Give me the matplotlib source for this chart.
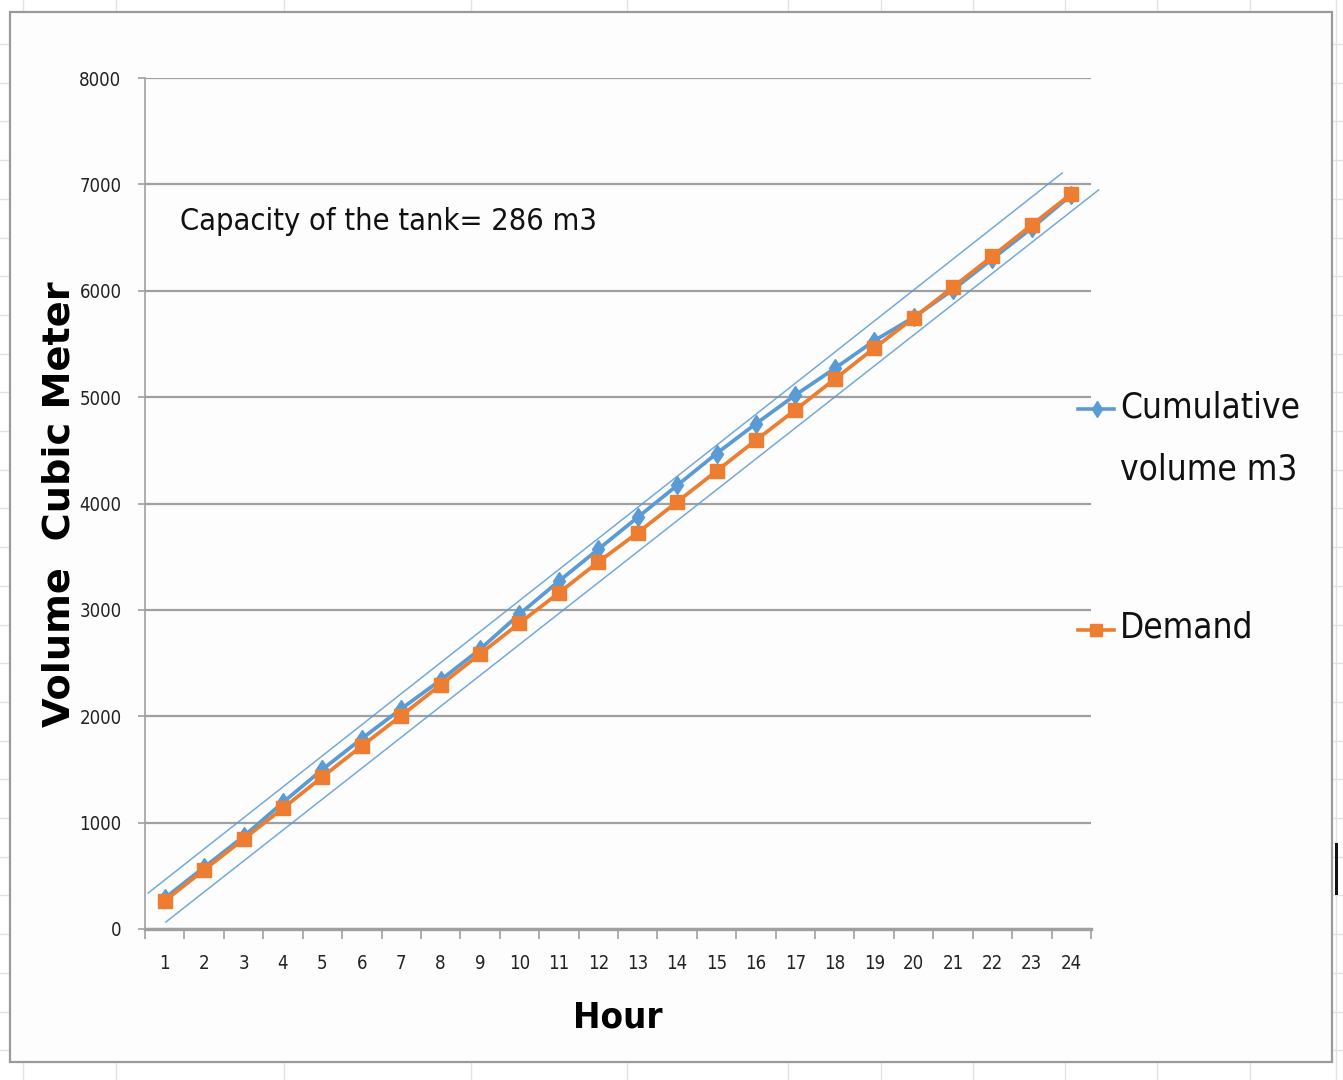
import matplotlib
matplotlib.use("Agg")
import matplotlib.pyplot as plt
from matplotlib import font_manager as fm
from matplotlib.font_manager import FontProperties
from matplotlib.lines import Line2D
from matplotlib.patches import Rectangle

# hourly values (m3)
hours = list(range(1, 25))
cumulative_volume = [290, 580, 870, 1190, 1500, 1790, 2070, 2340, 2630, 2960, 3270, 3570,
                     3870, 4170, 4470, 4750, 5020, 5270, 5530, 5750, 6010, 6300, 6590, 6900]
demand = [265, 555, 845, 1135, 1430, 1720, 2005, 2295, 2585, 2875, 3160, 3450,
          3725, 4015, 4305, 4595, 4880, 5170, 5460, 5745, 6035, 6325, 6620, 6910]

# envelope lines drawn by hand around the two curves (hour, m3)
upper_env_x = [0.58, 23.77]
upper_env_y = [338, 7107]
lower_env_x = [1.03, 24.69]
lower_env_y = [66, 6947]

y_ticks = [0, 1000, 2000, 3000, 4000, 5000, 6000, 7000, 8000]

BLUE = "#5B9BD5"
ORANGE = "#ED7D31"
GRID = "#A0A0A0"


def narrow_font(bold=False):
    """Return the narrowest sans face available, as FontProperties."""
    want = "bold" if bold else "normal"
    for name in ["Liberation Sans Narrow", "DejaVu Sans"]:
        for f in fm.fontManager.ttflist:
            if f.name != name:
                continue
            if name == "DejaVu Sans" and "ondensed" not in str(f.stretch) and "Condensed" not in f.fname:
                continue
            is_bold = (f.weight in ("bold", 700) or "Bold" in f.fname)
            if is_bold == bold and "Oblique" not in f.fname and "Italic" not in f.fname:
                return FontProperties(fname=f.fname)
    return FontProperties(family="Liberation Sans", weight=want)


NARROW = narrow_font()
NARROW_BOLD = narrow_font(bold=True)

W, H = 1343, 1080
fig = plt.figure(figsize=(W / 100, H / 100), dpi=100)
fig.patch.set_facecolor("white")
renderer = fig.canvas.get_renderer()


def fx(px):
    return px / W


def fy(py):
    return 1 - py / H


def fit(text, width_px, vertical=False, boost=1.0):
    """Scale a text's font size so its drawn length is about width_px."""
    bb = text.get_window_extent(renderer)
    length = bb.height if vertical else bb.width
    text.set_fontsize(text.get_fontsize() * width_px / length * boost)
    return text


# worksheet cells behind the chart
for cx in [23, 116, 284, 471, 627, 788, 881, 973, 1065, 1157, 1250, 1336]:
    fig.add_artist(Line2D([fx(cx), fx(cx)], [0, 1], color="#E2E2E2", lw=1, zorder=0))
row = 44.0
while row < H:
    fig.add_artist(Line2D([0, 1], [fy(row), fy(row)], color="#E2E2E2", lw=1, zorder=0))
    row += 38.7

# chart area
fig.add_artist(Rectangle((fx(10), fy(1062)), fx(1332) - fx(10), fy(12) - fy(1062),
                         facecolor="#FDFDFD", edgecolor="#9A9A9A", lw=1.6, zorder=1))
# text cursor at the right edge
fig.add_artist(Rectangle((fx(1335), fy(895)), fx(3), fy(843) - fy(895),
                         facecolor="#111111", edgecolor="none", zorder=1))

ax = fig.add_axes([fx(145), fy(929), fx(1091) - fx(145), fy(78) - fy(929)])
ax.set_facecolor("none")
ax.set_zorder(2)

ax.set_xlim(0.5, 24.5)
ax.set_ylim(0, 8000)

# tick label size from the width of "8000"
probe = fig.text(0, 0, "8000", fontproperties=NARROW, fontsize=14)
fit(probe, 38, boost=1.12)
tick_size = probe.get_fontsize()
probe.remove()

ax.set_yticks(y_ticks)
ax.set_yticklabels([str(v) for v in y_ticks], fontproperties=NARROW, fontsize=tick_size,
                   color="#222222")
ax.yaxis.grid(True, color=GRID, lw=1.6)
ax.set_axisbelow(True)

# category axis: ticks between the hours, labels under each hour
ax.set_xticks([h + 0.5 for h in [0] + hours])
ax.set_xticklabels([])
ax.set_xticks(hours, minor=True)
ax.set_xticklabels([str(h) for h in hours], minor=True, fontproperties=NARROW,
                   fontsize=tick_size, color="#222222")
ax.tick_params(axis="x", which="major", length=7, width=1.2, color=GRID, direction="out")
ax.tick_params(axis="x", which="minor", length=0, pad=18)
ax.tick_params(axis="y", length=5, width=1.2, color=GRID, pad=12)

for side in ["top", "right"]:
    ax.spines[side].set_visible(False)
ax.spines["left"].set_color(GRID)
ax.spines["left"].set_linewidth(1.2)
ax.spines["bottom"].set_color(GRID)
ax.spines["bottom"].set_linewidth(2.4)

ax.plot(hours, cumulative_volume, color=BLUE, lw=2.7, marker="d", markersize=9.5,
        markerfacecolor=BLUE, markeredgecolor=BLUE, zorder=3)
ax.plot(hours, demand, color=ORANGE, lw=2.7, marker="s", markersize=10.5,
        markerfacecolor=ORANGE, markeredgecolor=ORANGE, zorder=4)

ax.plot(upper_env_x, upper_env_y, color=BLUE, lw=1.1, alpha=0.85, zorder=5, clip_on=False)
ax.plot(lower_env_x, lower_env_y, color=BLUE, lw=1.1, alpha=0.85, zorder=5, clip_on=False)

title = fig.text(fx(180), fy(221), "Capacity of the tank= 286 m3", fontproperties=NARROW,
                 fontsize=29, va="center", ha="left", color="#111111", zorder=3)
fit(title, 408, boost=1.02)

ylab = fig.text(fx(60), fy(504), "Volume  Cubic Meter", family="DejaVu Sans",
                fontweight="bold", fontsize=27.5, rotation=90, va="center", ha="center",
                color="black", zorder=3)

xlab = fig.text(fx(618), fy(1018), "Hour", fontproperties=NARROW_BOLD, fontsize=32,
                va="center", ha="center", color="black", zorder=3)
fit(xlab, 80, boost=1.12)

# legend glyphs and labels
fig.add_artist(Line2D([fx(1078), fx(1114)], [fy(409), fy(409)], color=BLUE, lw=2.6, zorder=3))
fig.add_artist(Line2D([fx(1097)], [fy(409)], color=BLUE, marker="d", markersize=8, zorder=3))
fig.add_artist(Line2D([fx(1078), fx(1114)], [fy(630), fy(630)], color=ORANGE, lw=2.6, zorder=3))
fig.add_artist(Line2D([fx(1096)], [fy(630)], color=ORANGE, marker="s", markersize=8, zorder=3))
leg1 = fig.text(fx(1120), fy(408), "Cumulative", fontproperties=NARROW, fontsize=30,
                va="center", ha="left", color="#111111", zorder=3)
leg2 = fig.text(fx(1120), fy(470), "volume m3", fontproperties=NARROW, fontsize=30,
                va="center", ha="left", color="#111111", zorder=3)
leg3 = fig.text(fx(1120), fy(628), "Demand", fontproperties=NARROW, fontsize=30,
                va="center", ha="left", color="#111111", zorder=3)
fit(leg1, 176, boost=1.02)
leg_size = leg1.get_fontsize()
leg2.set_fontsize(leg_size)
leg3.set_fontsize(leg_size)

fig.savefig("out.png", dpi=100, facecolor="white")
